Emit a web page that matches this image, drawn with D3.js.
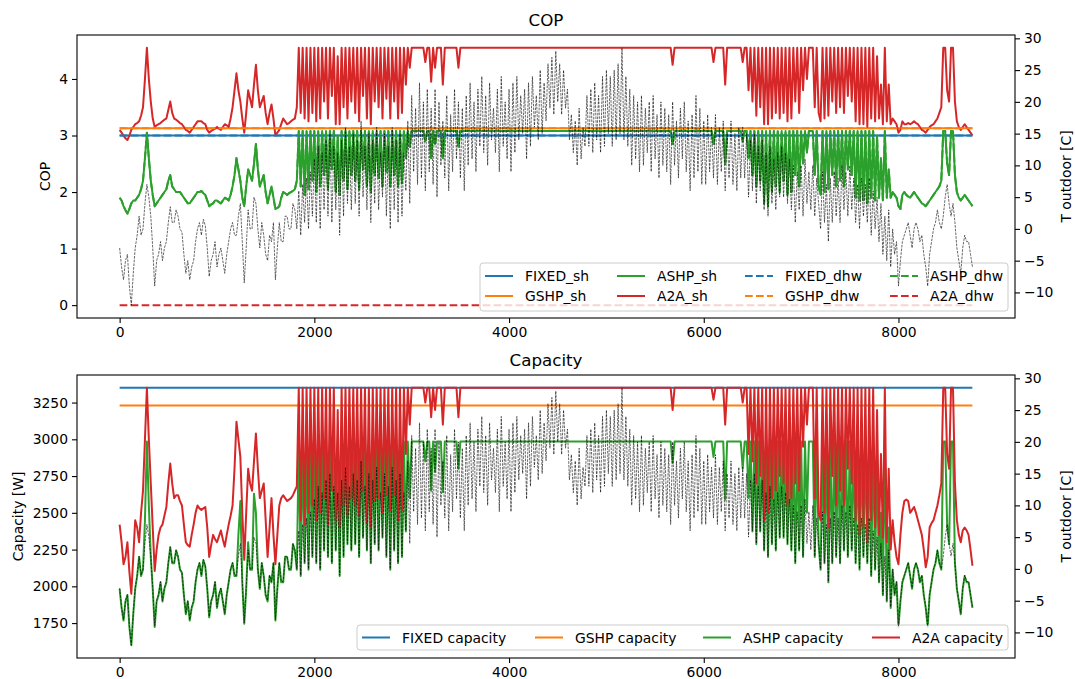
<!DOCTYPE html>
<html>
<head>
<meta charset="utf-8">
<script src="https://cdn.jsdelivr.net/npm/d3@7"></script>
<style>
  body { margin: 0; background: #fff; }
  svg { font-family: "DejaVu Sans", sans-serif; }
</style>
</head>
<body>
<div id="vis"></div>
<script>
// samples, one every 20 hours (one row = 400 h)
const step = 20;
const lastHour = 8759;

const tOutdoor = [
  -3,-6,-8,-5,-4,-9,-12,-7,-3,-1,2,-1,0,4,7,5,2,-3,-9,-5,
  -4,-2,-5,-3,-2,1,3.5,1,1,3,2,0,-0.5,-4,-7,-5,-8,-6,-5,-2,
  0,1,-1,1.5,0.5,-3,-7.5,-5,-4,-2,-6,-4,-3,-5,-7,-4,-2,0,1,-1,
  -1,2,4,-2,-8.5,-3,3,0,0,5,4,0,-3,1,-1,-4,-5,-1,-2,1,
  -8,-3,1,-2,-2,2,2,0,0,4,3,0,6,-1,7,1,8,0,9,2,
  11,1,13,0,12,3,14,2,15,1,13,3,12,-1,14,2,16,4,13,3,
  15,4,14,2,17,5,13,3,15,1,14,4,16,3,12,5,15,2,13,0,
  16,3,14,1,15,2,12,6,17,4,21,9,19,7,23,8,20,6,22,9,
  19,7,22,5,20,10,17,8,21,6,18,9,22,11,20,8,19,6,21,10,
  23,11,20,9,22,13,24,12,21,10,23,14,19,12,22,9,24,13,20,11,
  22,9,23,12,24,14,21,15,22,11,23,13,24,16,21,14,25,15,23,17,
  26,19,27,18,28,20,26,18,25,19,22,14,18,12,17,10,19,11,16,13,
  21,13,22,12,23,14,21,12,24,13,25,15,24,13,25,14,26,15,28.5,14,
  24,13,22,10,21,11,20,9,21,10,19,12,20,9,21,11,18,8,20,10,
  19,9,18,7,20,10,17,8,19,11,20,9,17,6,18,8,21,9,19,7,
  17,7,18,9,16,8,18,7,16,9,17,6,15,8,17,7,15,6,16,8,
  16,8,15,5,14,6,15,4,13,6,14,3,12,2,13,4,11,3,12,5,
  13,5,12,4,11,3,10,1,9,3,10,2,11,4,9,3,10,2,8,4,
  0,9,1,7,-2,8,1,9,2,8,1,10,3,9,2,10,3,8,1,7,
  0,8,2,7,1,8,-1,6,0,5,-2,4,-4,2,-5,3,-6,0,-4,-2,
  -9,-5,-2,-1,0,1,-1,-3,0,1,0,-2,-1,-4,-6,-9,-4,-2,0,1,
  3,1,0,2,5,7,4,2,4,1,-3,-5,-7,-3,-1,-2,-2,-4,-6
];

const copAshp = [
  1.9,1.85,1.75,1.68,1.62,1.7,1.8,1.85,1.85,1.9,1.95,2.05,2.2,2.6,3.05,2.6,2.2,1.95,1.75,1.8,
  1.85,1.9,1.95,2.0,2.05,2.2,2.3,2.1,2.05,2.0,2.0,2.0,1.95,1.9,1.85,1.8,1.8,1.85,1.9,1.95,
  2.0,2.0,2.02,1.98,1.95,1.85,1.75,1.78,1.8,1.85,1.85,1.82,1.8,1.85,1.9,1.88,1.85,1.95,2.1,2.3,
  2.6,2.4,2.2,1.9,1.75,2.1,2.4,2.3,2.2,2.5,2.85,2.4,2.1,2.2,2.3,2.0,1.8,1.95,2.1,1.9,
  1.7,1.72,1.75,1.9,2.0,1.98,1.95,1.98,2.0,2.02,2.05,2.2,3.08,2.1,3.08,1.95,3.08,2.05,3.08,2.2,
  3.08,2.0,3.08,2.1,3.08,2.3,3.08,2.05,3.08,2.4,3.08,2.0,3.0,1.95,3.08,2.2,3.08,2.05,3.08,2.3,
  3.08,2.2,3.08,2.05,3.08,2.4,3.08,2.1,3.08,2.0,3.08,2.3,3.08,2.25,3.08,2.1,3.08,2.35,3.08,2.1,
  3.08,2.3,3.08,2.1,3.08,2.15,3.08,2.6,3.08,2.8,3.08,3.08,3.08,3.08,3.08,3.08,3.08,2.9,3.08,3.08,
  2.6,3.08,2.85,3.08,3.08,3.08,2.6,3.08,3.08,3.08,3.08,3.08,3.08,3.08,2.8,3.08,3.08,3.08,3.08,3.08,
  3.08,3.08,3.08,3.08,3.08,3.08,3.08,3.08,3.08,3.08,3.08,3.08,3.08,3.08,3.08,3.08,3.08,3.08,3.08,3.08,
  3.08,3.08,3.08,3.08,3.08,3.08,3.08,3.08,3.08,3.08,3.08,3.08,3.08,3.08,3.08,3.08,3.08,3.08,3.08,3.08,
  3.08,3.08,3.08,3.08,3.08,3.08,3.08,3.08,3.08,3.08,3.08,3.08,3.08,3.08,3.08,3.08,3.08,3.08,3.08,3.08,
  3.08,3.08,3.08,3.08,3.08,3.08,3.08,3.08,3.08,3.08,3.08,3.08,3.08,3.08,3.08,3.08,3.08,3.08,3.08,3.08,
  3.08,3.08,3.08,3.08,3.08,3.08,3.08,3.08,3.08,3.08,3.08,3.08,3.08,3.08,3.08,3.08,3.08,3.08,3.08,3.08,
  3.08,3.08,3.08,3.08,2.85,3.08,3.08,3.08,3.08,3.08,3.08,3.08,3.08,3.08,3.08,3.08,3.08,3.08,3.08,3.08,
  3.08,3.08,3.08,3.08,3.08,2.85,3.08,3.08,3.08,3.08,3.08,2.5,3.08,3.08,3.08,3.08,3.08,3.08,3.08,3.08,
  2.9,3.08,3.08,2.6,3.08,2.3,3.08,2.1,3.08,2.2,3.08,1.8,3.08,1.75,3.08,2.0,3.08,2.1,3.08,2.0,
  3.08,2.2,3.08,1.95,3.08,2.0,3.08,2.3,3.08,2.1,3.08,2.5,3.08,2.7,3.08,3.08,3.08,2.3,3.08,2.1,
  1.95,3.08,2.0,3.08,2.05,3.08,2.3,3.08,2.1,3.08,2.2,3.08,2.1,3.08,2.4,3.08,2.3,3.08,1.9,3.08,
  1.85,3.08,1.85,3.08,1.8,3.08,1.9,3.08,1.85,3.0,1.9,2.6,1.85,3.08,1.9,2.4,1.9,2.0,1.95,1.9,
  1.75,1.7,1.95,2.0,1.95,1.92,1.9,1.95,2.0,1.95,1.9,1.85,1.8,1.78,1.75,1.8,1.85,1.9,1.95,2.0,
  2.05,2.1,2.2,3.08,3.08,2.5,2.3,3.08,3.08,2.3,2.0,1.9,1.85,1.9,1.95,1.9,1.85,1.8,1.75
];

const copA2a = [
  3.1,3.05,3.0,2.95,2.92,3.0,3.1,3.15,3.2,3.22,3.25,3.35,3.5,4.0,4.55,4.0,3.6,3.3,3.15,3.18,
  3.2,3.22,3.25,3.28,3.3,3.45,3.6,3.4,3.3,3.28,3.25,3.22,3.2,3.15,3.1,3.08,3.05,3.1,3.15,3.2,
  3.25,3.25,3.25,3.22,3.2,3.1,3.05,3.08,3.1,3.12,3.15,3.12,3.1,3.15,3.2,3.18,3.15,3.3,3.5,3.8,
  4.1,3.8,3.6,3.3,3.05,3.4,3.8,3.65,3.5,3.9,4.25,3.8,3.5,3.6,3.7,3.4,3.2,3.4,3.55,3.3,
  3.0,3.05,3.1,3.2,3.3,3.25,3.2,3.22,3.25,3.28,3.3,3.5,4.55,3.4,4.55,3.3,4.55,3.25,4.55,3.4,
  4.55,3.25,4.55,3.3,4.55,3.6,4.55,3.3,4.55,3.7,4.55,3.2,4.4,3.2,4.55,3.5,4.55,3.3,4.55,3.6,
  4.55,3.4,4.55,3.25,4.55,3.7,4.55,3.3,4.55,3.2,4.55,3.6,4.55,3.5,4.55,3.3,4.55,3.65,4.55,3.3,
  4.55,3.6,4.55,3.3,4.55,3.4,4.55,3.9,4.55,4.2,4.55,4.55,4.55,4.55,4.55,4.55,4.55,4.3,4.55,4.55,
  3.95,4.55,4.2,4.55,4.55,4.55,3.9,4.55,4.55,4.55,4.55,4.55,4.55,4.55,4.2,4.55,4.55,4.55,4.55,4.55,
  4.55,4.55,4.55,4.55,4.55,4.55,4.55,4.55,4.55,4.55,4.55,4.55,4.55,4.55,4.55,4.55,4.55,4.55,4.55,4.55,
  4.55,4.55,4.55,4.55,4.55,4.55,4.55,4.55,4.55,4.55,4.55,4.55,4.55,4.55,4.55,4.55,4.55,4.55,4.55,4.55,
  4.55,4.55,4.55,4.55,4.55,4.55,4.55,4.55,4.55,4.55,4.55,4.55,4.55,4.55,4.55,4.55,4.55,4.55,4.55,4.55,
  4.55,4.55,4.55,4.55,4.55,4.55,4.55,4.55,4.55,4.55,4.55,4.55,4.55,4.55,4.55,4.55,4.55,4.55,4.55,4.55,
  4.55,4.55,4.55,4.55,4.55,4.55,4.55,4.55,4.55,4.55,4.55,4.55,4.55,4.55,4.55,4.55,4.55,4.55,4.55,4.55,
  4.55,4.55,4.55,4.55,4.25,4.55,4.55,4.55,4.55,4.55,4.55,4.55,4.55,4.55,4.55,4.55,4.55,4.55,4.55,4.55,
  4.55,4.55,4.55,4.55,4.55,4.3,4.55,4.55,4.55,4.55,4.55,3.9,4.55,4.55,4.55,4.55,4.55,4.55,4.55,4.55,
  4.3,4.55,4.55,3.8,4.55,3.6,4.55,3.35,4.55,3.5,4.55,3.2,4.55,3.2,4.55,3.3,4.55,3.4,4.55,3.3,
  4.55,3.4,4.55,3.25,4.55,3.3,4.55,3.6,4.55,3.4,4.55,3.8,4.55,4.0,4.55,4.55,4.55,3.5,4.55,3.4,
  3.25,4.55,3.3,4.55,3.35,4.55,3.6,4.55,3.4,4.55,3.5,4.55,3.4,4.55,3.7,4.55,3.6,4.55,3.25,4.55,
  3.2,4.55,3.2,4.55,3.15,4.55,3.3,4.55,3.25,4.4,3.3,3.9,3.2,4.55,3.25,3.9,3.2,3.3,3.25,3.2,
  3.05,3.1,3.25,3.2,3.2,3.22,3.2,3.22,3.25,3.22,3.2,3.15,3.1,3.08,3.05,3.1,3.15,3.18,3.2,3.25,
  3.3,3.4,3.5,4.55,4.55,3.8,3.6,4.55,4.55,3.6,3.25,3.15,3.1,3.15,3.2,3.15,3.1,3.05,3.0
];

const capAshp = [
  1983,1853,1767,1897,1940,1724,1600,1810,1983,2070,2200,2070,2113,2450,2985,2550,2200,1983,1724,1897,
  1940,2027,1897,1983,2027,2157,2265,2157,2157,2243,2200,2113,2092,1940,1810,1897,1767,1853,1897,2027,
  2113,2157,2070,2178,2135,1983,1789,1897,1940,2027,1853,1940,1983,1897,1810,1940,2027,2113,2157,2070,
  2070,2350,2580,2027,1745,1983,2300,2113,2113,2630,2500,2113,1983,2157,2070,1940,1897,2070,2027,2157,
  1767,1983,2157,2027,2027,2200,2200,2113,2113,2287,2243,2113,2985,2070,2985,2157,2985,2113,2985,2200,
  2985,2157,2985,2113,2985,2243,2985,2200,2985,2157,2985,2243,2985,2070,2985,2200,2985,2287,2985,2243,
  2985,2287,2985,2200,2985,2330,2985,2243,2985,2157,2985,2287,2985,2243,2985,2330,2985,2200,2985,2113,
  2985,2243,2985,2157,2985,2200,2985,2373,2985,2600,2985,2985,2985,2985,2985,2985,2985,2850,2985,2985,
  2650,2985,2780,2985,2985,2985,2640,2985,2985,2985,2985,2985,2985,2985,2800,2985,2985,2985,2985,2985,
  2985,2985,2985,2985,2985,2985,2985,2985,2985,2985,2985,2985,2985,2985,2985,2985,2985,2985,2985,2985,
  2985,2985,2985,2985,2985,2985,2985,2985,2985,2985,2985,2985,2985,2985,2985,2985,2985,2985,2985,2985,
  2985,2985,2985,2985,2985,2985,2985,2985,2985,2985,2985,2985,2985,2985,2985,2985,2985,2985,2985,2985,
  2985,2985,2985,2985,2985,2985,2985,2985,2985,2985,2985,2985,2985,2985,2985,2985,2985,2985,2985,2985,
  2985,2985,2985,2985,2985,2985,2985,2985,2985,2985,2985,2985,2985,2985,2985,2985,2985,2985,2985,2985,
  2985,2985,2985,2985,2840,2985,2985,2985,2985,2985,2985,2985,2985,2985,2985,2985,2985,2985,2985,2985,
  2985,2985,2985,2985,2985,2880,2985,2985,2985,2985,2985,2590,2985,2985,2985,2985,2985,2985,2985,2985,
  2800,2985,2985,2600,2985,2373,2985,2287,2985,2373,2985,2243,2985,2200,2985,2287,2985,2243,2985,2330,
  2985,2330,2985,2287,2985,2243,2985,2157,2985,2243,2985,2200,2985,2500,2985,2985,2985,2200,2985,2287,
  2113,2985,2157,2985,2027,2985,2157,2985,2200,2985,2157,2985,2243,2985,2200,2985,2243,2985,2157,2985,
  2113,2985,2200,2985,2157,2985,2070,2985,2113,2900,2027,2500,1940,2985,1897,2400,1853,2113,1940,2027,
  1724,1897,2027,2070,2113,2157,2070,1983,2113,2157,2113,2027,2070,1940,1853,1724,1940,2027,2113,2157,
  2243,2157,2113,2985,2985,2416,2287,2985,2985,2157,1983,1897,1810,1983,2070,2027,2027,1940,1853
];

const capA2a = [
  2420,2300,2150,2200,2300,2100,1950,2200,2450,2400,2300,2500,2650,3000,3350,3000,2700,2400,2105,2250,
  2350,2400,2420,2480,2540,2700,2835,2700,2600,2620,2620,2580,2550,2420,2300,2280,2270,2350,2420,2500,
  2550,2530,2520,2530,2540,2400,2200,2280,2350,2320,2300,2340,2380,2320,2270,2350,2420,2480,2550,2800,
  3120,3000,2880,2500,2180,2500,2800,2700,2650,2850,3040,2800,2600,2650,2700,2450,2200,2400,2600,2350,
  2150,2350,2550,2600,2620,2600,2580,2590,2600,2620,2650,2680,3350,2450,3350,2420,3350,2500,3350,2550,
  3350,2450,3350,2500,3350,2600,3350,2420,3350,2650,3350,2450,3200,2400,3350,2550,3350,2480,3350,2600,
  3350,2550,3350,2480,3350,2650,3350,2430,3350,2400,3350,2580,3350,2600,3350,2500,3350,2620,3350,2520,
  3350,2620,3350,2450,3350,2520,3350,2900,3350,3100,3350,3350,3350,3350,3350,3350,3350,3250,3350,3350,
  3150,3350,3200,3350,3350,3350,3100,3350,3350,3350,3350,3350,3350,3350,3150,3350,3350,3350,3350,3350,
  3350,3350,3350,3350,3350,3350,3350,3350,3350,3350,3350,3350,3350,3350,3350,3350,3350,3350,3350,3350,
  3350,3350,3350,3350,3350,3350,3350,3350,3350,3350,3350,3350,3350,3350,3350,3350,3350,3350,3350,3350,
  3350,3350,3350,3350,3350,3350,3350,3350,3350,3350,3350,3350,3350,3350,3350,3350,3350,3350,3350,3350,
  3350,3350,3350,3350,3350,3350,3350,3350,3350,3350,3350,3350,3350,3350,3350,3350,3350,3350,3350,3350,
  3350,3350,3350,3350,3350,3350,3350,3350,3350,3350,3350,3350,3350,3350,3350,3350,3350,3350,3350,3350,
  3350,3350,3350,3350,3200,3350,3350,3350,3350,3350,3350,3350,3350,3350,3350,3350,3350,3350,3350,3350,
  3350,3350,3350,3350,3350,3270,3350,3350,3350,3350,3350,3100,3350,3350,3350,3350,3350,3350,3350,3350,
  3250,3350,3350,2900,3350,2850,3350,2700,3350,2750,3350,2450,3350,2500,3350,2600,3350,2650,3350,2750,
  3350,2700,3350,2550,3350,2600,3350,2700,3350,2650,3350,2950,3350,3100,3350,3350,3350,2600,3350,2500,
  2450,3350,2500,3350,2400,3350,2750,3350,2550,3350,2650,3350,2550,3350,2800,3350,2700,3350,2450,3350,
  2350,3350,2400,3350,2300,3350,2450,3350,2400,3200,2350,2900,2330,3350,2300,2800,2250,2450,2300,2200,
  2150,2350,2500,2580,2590,2580,2500,2520,2540,2500,2450,2400,2350,2250,2130,2200,2400,2430,2450,2500,
  2550,2620,2700,3350,3350,2900,2800,3350,3350,2700,2450,2350,2300,2380,2400,2380,2350,2250,2140
];

// flat series
const copFixed = 3.0;
const copGshp = 3.13;
const copA2aDhw = 0;
const capFixed = 3350;
const capGshp = 3230;

const xTicks = [0, 2000, 4000, 6000, 8000];
const copTicks = [0, 1, 2, 3, 4];
const capTicks = [1750, 2000, 2250, 2500, 2750, 3000, 3250];
const tTicks = [-10, -5, 0, 5, 10, 15, 20, 25, 30];

const copLabels = ["FIXED_sh", "GSHP_sh", "ASHP_sh", "A2A_sh", "FIXED_dhw", "GSHP_dhw", "ASHP_dhw", "A2A_dhw"];
const capLabels = ["FIXED capacity", "GSHP capacity", "ASHP capacity", "A2A capacity"];

const C = { blue: "#1f77b4", orange: "#ff7f0e", green: "#2ca02c", red: "#d62728" };
const FONT = 13.9;

const W = 1075, H = 679;
const left = 77, right = 1015;

const svg = d3.select("#vis").append("svg")
  .attr("width", W).attr("height", H);

// matplotlib style 5% margins
function pad(ext) {
  const d = ext[1] - ext[0];
  return [ext[0] - 0.05 * d, ext[1] + 0.05 * d];
}
const series = vals => vals.map((v, i) => [i * step, v]);
const flat = v => [[0, v], [lastHour, v]];

function panel(o) {
  const x = d3.scaleLinear().domain(pad([0, lastHour])).range([left, right]);
  const y = d3.scaleLinear().domain(pad(o.extent)).range([o.bottom, o.top]);
  const yT = d3.scaleLinear().domain(pad(d3.extent(tOutdoor))).range([o.bottom, o.top]);

  const id = "clip" + o.top;
  svg.append("clipPath").attr("id", id)
    .append("rect").attr("x", left).attr("y", o.top)
    .attr("width", right - left).attr("height", o.bottom - o.top);

  const g = svg.append("g").attr("clip-path", `url(#${id})`);
  const line = d3.line().x(d => x(d[0])).y(d => y(d[1]));

  o.lines.forEach(s => {
    g.append("path")
      .attr("d", line(s.data))
      .attr("fill", "none")
      .attr("stroke", s.color)
      .attr("stroke-width", 2)
      .attr("stroke-linejoin", "round")
      .attr("stroke-dasharray", s.dash ? "7.7,3.3" : null);
  });

  // legend
  const L = o.legend;
  const lg = svg.append("g").attr("transform", `translate(${L.x},${L.y})`);
  lg.append("rect")
    .attr("width", L.w).attr("height", L.h).attr("rx", 3)
    .attr("fill", "#fff").attr("fill-opacity", 0.8)
    .attr("stroke", "#cccccc").attr("stroke-width", 1);
  o.lines.forEach((s, i) => {
    const c = Math.floor(i / L.rows), r = i % L.rows;
    const cx = L.cols[c], cy = L.rowY[r];
    lg.append("line")
      .attr("x1", cx).attr("x2", cx + 28).attr("y1", cy).attr("y2", cy)
      .attr("stroke", s.color).attr("stroke-width", 2)
      .attr("stroke-dasharray", s.dash ? "7.7,3.3" : null);
    lg.append("text")
      .attr("x", cx + 40).attr("y", cy).attr("dy", "0.36em")
      .attr("font-size", FONT).attr("fill", "#000")
      .text(s.name);
  });

  // outdoor temperature on the twin axis, drawn on top
  const tLine = d3.line().x(d => x(d[0])).y(d => yT(d[1]));
  svg.append("g").attr("clip-path", `url(#${id})`)
    .append("path")
    .attr("d", tLine(series(tOutdoor)))
    .attr("fill", "none")
    .attr("stroke", "#000")
    .attr("stroke-width", 0.7)
    .attr("stroke-opacity", 0.85)
    .attr("stroke-dasharray", "2.6,1.1");

  // frame
  svg.append("rect")
    .attr("x", left).attr("y", o.top)
    .attr("width", right - left).attr("height", o.bottom - o.top)
    .attr("fill", "none").attr("stroke", "#000").attr("stroke-width", 1.1);

  const styleAxis = sel => {
    sel.select(".domain").remove();
    sel.selectAll(".tick line").attr("stroke", "#000").attr("stroke-width", 1.1);
    sel.selectAll(".tick text").attr("fill", "#000").attr("font-size", FONT)
      .attr("font-family", "DejaVu Sans, sans-serif");
  };
  const fmt = d3.format("d");

  svg.append("g")
    .attr("transform", `translate(0,${o.bottom})`)
    .call(d3.axisBottom(x).tickValues(xTicks).tickFormat(fmt).tickSize(5).tickPadding(4))
    .call(styleAxis);
  svg.append("g")
    .attr("transform", `translate(${left},0)`)
    .call(d3.axisLeft(y).tickValues(o.ticks).tickFormat(fmt).tickSize(5).tickPadding(4))
    .call(styleAxis);
  svg.append("g")
    .attr("transform", `translate(${right},0)`)
    .call(d3.axisRight(yT).tickValues(tTicks).tickFormat(fmt).tickSize(5).tickPadding(4))
    .call(styleAxis);

  // titles and labels
  const mid = (o.top + o.bottom) / 2;
  svg.append("text")
    .attr("x", (left + right) / 2).attr("y", o.top - 9)
    .attr("text-anchor", "middle").attr("font-size", 16.7).attr("fill", "#000")
    .text(o.title);
  svg.append("text")
    .attr("transform", `translate(${o.labelX},${mid}) rotate(-90)`)
    .attr("text-anchor", "middle").attr("font-size", FONT).attr("fill", "#000")
    .text(o.label);
  svg.append("text")
    .attr("transform", `translate(1071,${mid}) rotate(-90)`)
    .attr("text-anchor", "middle").attr("font-size", FONT).attr("fill", "#000")
    .text("T outdoor [C]");
}

panel({
  title: "COP", label: "COP", labelX: 50,
  top: 35, bottom: 318,
  extent: [d3.min([copA2aDhw, d3.min(copAshp)]), d3.max(copA2a)],
  ticks: copTicks,
  lines: [
    { name: copLabels[0], data: flat(copFixed), color: C.blue },
    { name: copLabels[1], data: flat(copGshp), color: C.orange },
    { name: copLabels[2], data: series(copAshp), color: C.green },
    { name: copLabels[3], data: series(copA2a), color: C.red },
    { name: copLabels[4], data: flat(copFixed), color: C.blue, dash: true },
    { name: copLabels[5], data: flat(copGshp), color: C.orange, dash: true },
    { name: copLabels[6], data: series(copAshp), color: C.green, dash: true },
    { name: copLabels[7], data: flat(copA2aDhw), color: C.red, dash: true }
  ],
  legend: { x: 480, y: 263, w: 528, h: 48, rows: 2, rowY: [13, 33], cols: [5, 137, 265, 410] }
});

panel({
  title: "Capacity", label: "Capacity [W]", labelX: 23,
  top: 375, bottom: 658,
  extent: [d3.min(capAshp), d3.max([capFixed, d3.max(capA2a)])],
  ticks: capTicks,
  lines: [
    { name: capLabels[0], data: flat(capFixed), color: C.blue },
    { name: capLabels[1], data: flat(capGshp), color: C.orange },
    { name: capLabels[2], data: series(capAshp), color: C.green },
    { name: capLabels[3], data: series(capA2a), color: C.red }
  ],
  legend: { x: 357, y: 625, w: 651, h: 25, rows: 1, rowY: [12.5], cols: [5, 178, 346, 515] }
});
</script>
</body>
</html>
